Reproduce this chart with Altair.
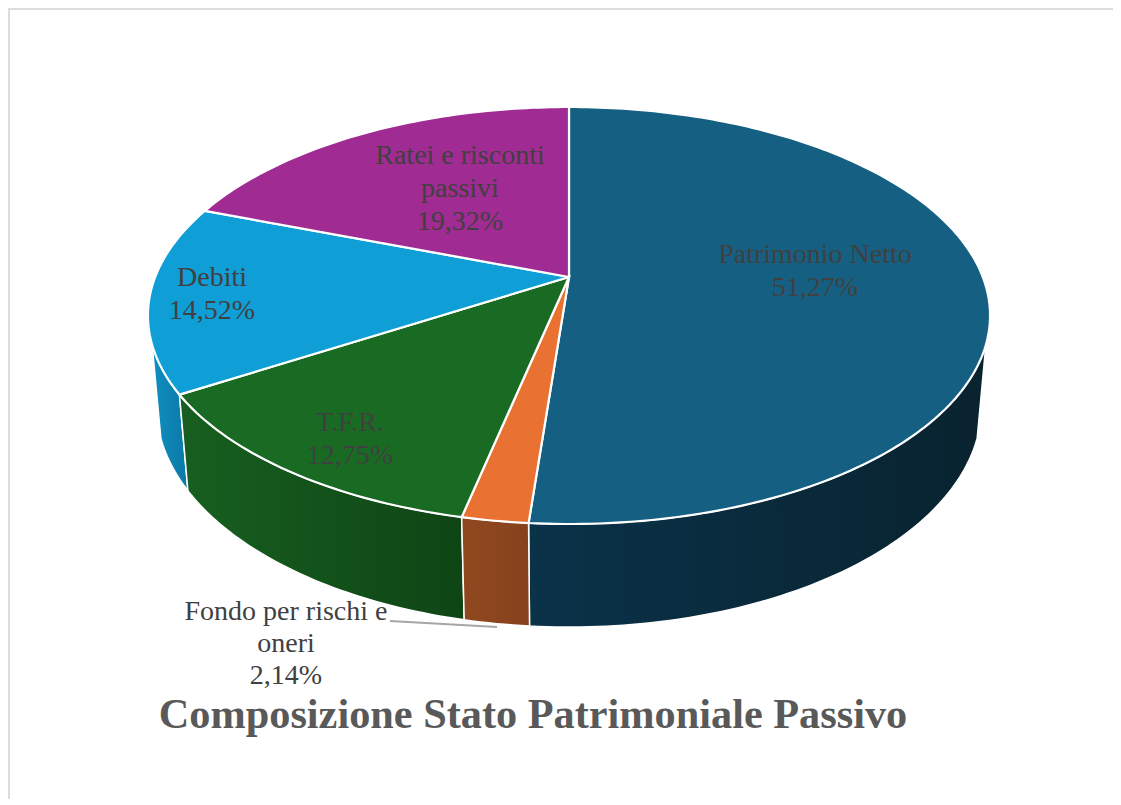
import math
import altair as alt
import pandas as pd

CATEGORIES = ["Patrimonio Netto", "Fondo per rischi e oneri", "T.F.R.", "Debiti", "Ratei e risconti passivi"]
SHARES = [51.27, 2.14, 12.75, 14.52, 19.32]
TOP_COLORS = ["#156082", "#e97132", "#196b24", "#0f9ed5", "#a02b93"]
WALL_STOPS = [
    ("#0a3249", "#09232f"),
    ("#91481f", "#86421d"),
    ("#175f20", "#0f4515"),
    ("#0f8fc0", "#0c78a6"),
]
LABEL_LINES = [
    ["Patrimonio Netto"],
    ["Fondo per rischi e", "oneri"],
    ["T.F.R."],
    ["Debiti"],
    ["Ratei e risconti", "passivi"],
]
TITLE = "Composizione Stato Patrimoniale Passivo"

# layout (pixels of the page, minus the 8px body margin)
W, H = 1105, 791
APEX_X, APEX_Y = 561, 269
LABEL_X = [807, 278, 342, 204, 452]
LABEL_Y = [247, 603.5, 415, 270, 148]
LINE_H = [33, 32, 33, 33, 33]
FONT = "Liberation Serif"
FS = 28

# perspective of the disc (fit on the picture)
KX, AY, C, W0, DROP = 413.8, 201.4, 0.1847, 1.02, 91.0
# angle from 12 o'clock at which the side wall meets its silhouette
TANGENT_DEG = 108.5


def top(deg, r=1.0):
    a = math.radians(deg)
    u, v = r * math.sin(a), r * math.cos(a)
    w = 1 + C * v
    return KX * u / w, AY * v / w


def base(deg):
    a = math.radians(deg)
    u, v = math.sin(a), math.cos(a)
    w = W0 + C * v
    return KX * u / w, (AY * v - DROP) / w


def arc_angles(start, end):
    n = max(2, int(abs(end - start)) + 1)
    return [start + (end - start) * i / n for i in range(n + 1)]


cum = [0.0]
for s in SHARES:
    cum.append(cum[-1] + s)
total = cum[-1]
angles = [c / total * 360 for c in cum]

x_scale = alt.Scale(domain=[-APEX_X, W - APEX_X], range=[0, W], zero=False, nice=False)
y_scale = alt.Scale(domain=[APEX_Y - H, APEX_Y], range=[H, 0], zero=False, nice=False)


def polygon(points, fill, stroke_width):
    df = pd.DataFrame({"px": [p[0] for p in points], "py": [p[1] for p in points], "i": range(len(points))})
    return alt.Chart(df).mark_line(
        fill=fill, stroke="white", strokeWidth=stroke_width, interpolate="linear-closed", clip=False
    ).encode(
        x=alt.X("px:Q", scale=x_scale, axis=None),
        y=alt.Y("py:Q", scale=y_scale, axis=None),
        order="i:Q",
    )


layers = []
# frame of the screenshot
layers.append(alt.Chart(pd.DataFrame({"a": [0]})).mark_rule(color="#dcdcdc", strokeWidth=4).encode(
    x=alt.value(0), x2=alt.value(W), y=alt.value(0), y2=alt.value(0)))
layers.append(alt.Chart(pd.DataFrame({"a": [0]})).mark_rule(color="#dcdcdc", strokeWidth=4).encode(
    x=alt.value(0), x2=alt.value(0), y=alt.value(0), y2=alt.value(H)))

# walls: only the visible span of each slice, back slices first
for idx in [3, 0, 2, 1]:
    start = max(angles[idx], TANGENT_DEG)
    end = min(angles[idx + 1], 360 - TANGENT_DEG)
    ang = arc_angles(start, end)
    pts = [top(a) for a in ang] + [base(a) for a in reversed(ang)]
    c1, c2 = WALL_STOPS[idx]
    grad = alt.Gradient(gradient="linear", x1=0, x2=1, y1=0, y2=0,
                        stops=[alt.GradientStop(color=c1, offset=0), alt.GradientStop(color=c2, offset=1)])
    layers.append(polygon(pts, grad, 1.5))

# top face
for idx in range(5):
    ang = arc_angles(angles[idx], angles[idx + 1])
    pts = [(0.0, 0.0)] + [top(a) for a in ang]
    layers.append(polygon(pts, TOP_COLORS[idx], 2.2))

# leader line of the small slice
layers.append(alt.Chart(pd.DataFrame({"a": [0]})).mark_rule(color="#a6a6a6", strokeWidth=2).encode(
    x=alt.value(382), x2=alt.value(489), y=alt.value(613), y2=alt.value(619)))

# labels
for name_lines, share, lx, ly, lh in zip(LABEL_LINES, SHARES, LABEL_X, LABEL_Y, LINE_H):
    lines = name_lines + [f"{share:.2f}%".replace(".", ",")]
    for k, line in enumerate(lines):
        layers.append(alt.Chart(pd.DataFrame({"t": [line]})).mark_text(
            font=FONT, fontSize=FS, color="#404040", align="center", baseline="middle"
        ).encode(x=alt.value(lx), y=alt.value(ly + k * lh), text="t:N"))

layers.append(alt.Chart(pd.DataFrame({"t": [TITLE]})).mark_text(
    font=FONT, fontSize=42.3, fontWeight="bold", color="#595959", align="center", baseline="middle"
).encode(x=alt.value(525), y=alt.value(707), text="t:N"))

chart = alt.layer(*layers).properties(
    width=W, height=H, autosize=alt.AutoSizeParams(type="none"), padding=0,
    background="white",
).configure_view(strokeWidth=0)

chart.save("out.html", embed_options={"renderer": "svg", "actions": False})
